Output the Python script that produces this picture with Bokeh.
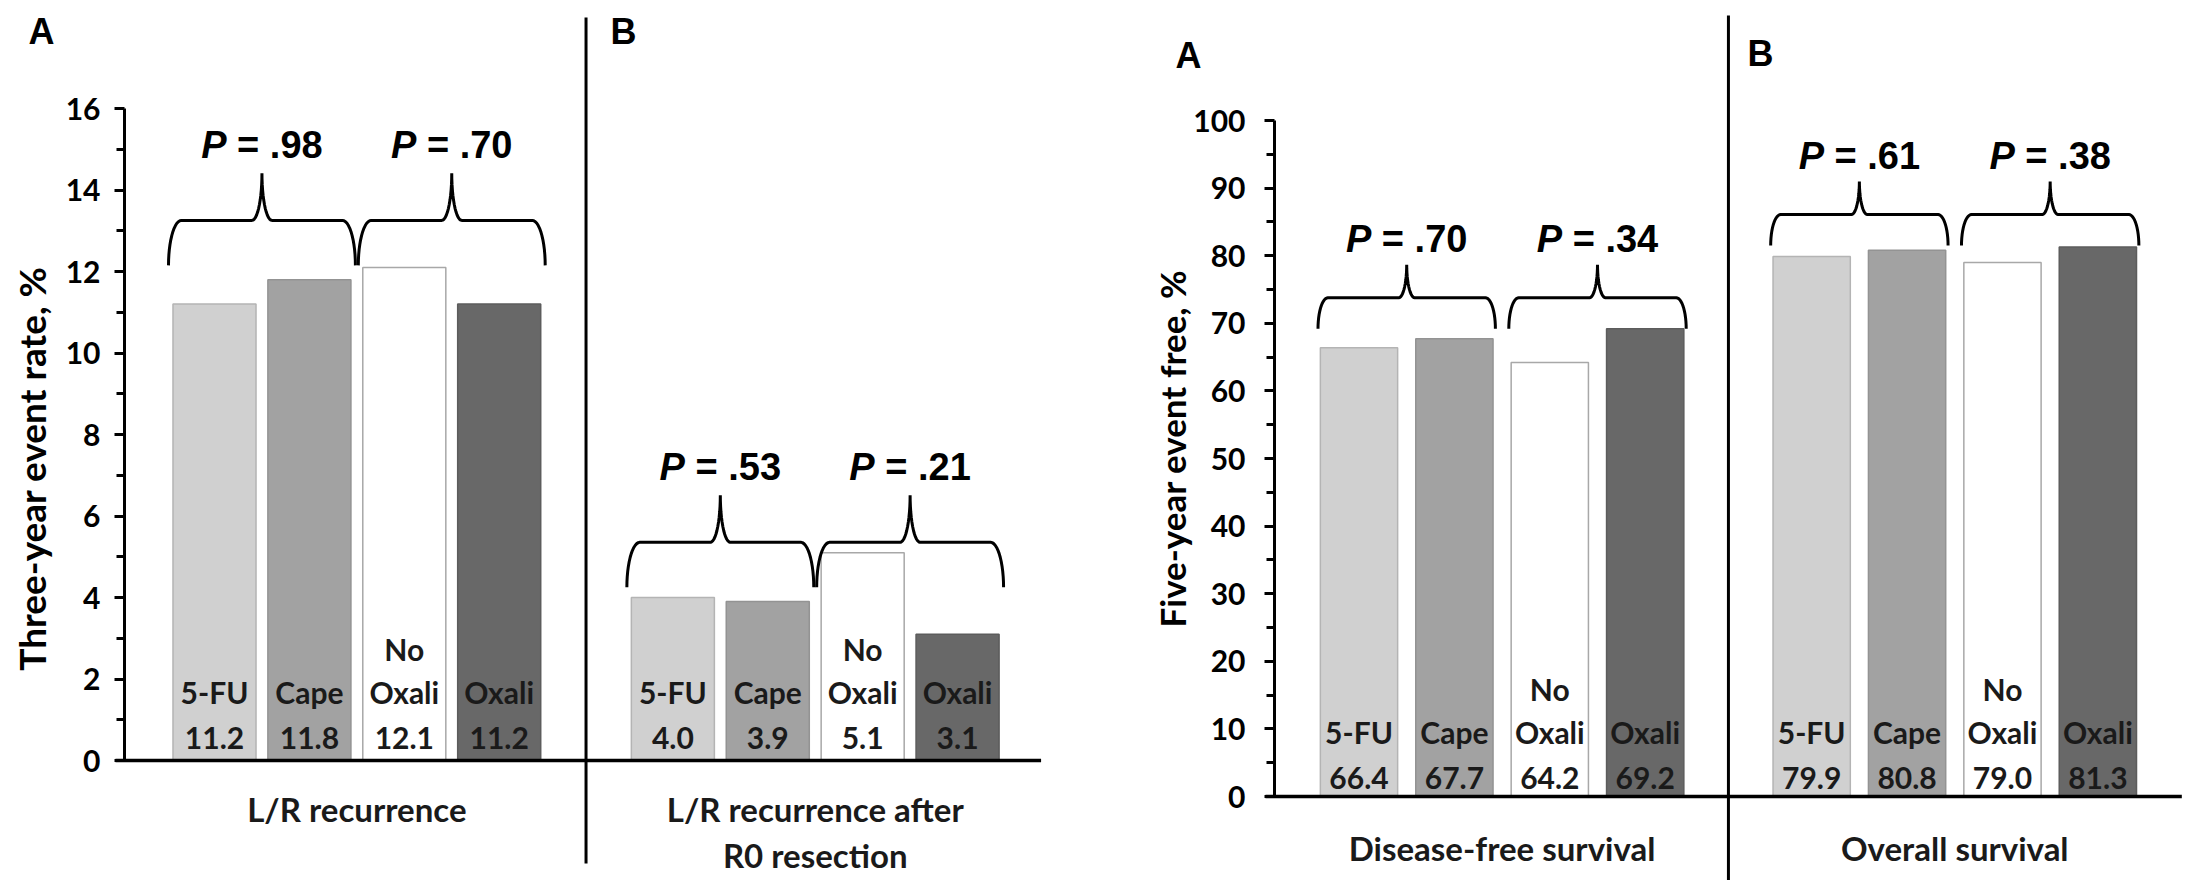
import numpy as np
from bokeh.plotting import figure
from bokeh.layouts import row
from bokeh.models import Range1d, FixedTicker
from bokeh.core.properties import value
from bokeh.embed import file_html
from bokeh.resources import INLINE

# ---------------- data ----------------
arms = ["5-FU", "Cape", "No Oxali", "Oxali"]

lr_panels = ["A", "B"]
lr_categories = ["L/R recurrence", "L/R recurrence after\nR0 resection"]
lr_recurrence = [11.2, 11.8, 12.1, 11.2]
lr_recurrence_r0 = [4.0, 3.9, 5.1, 3.1]
lr_p_values = [[".98", ".70"], [".53", ".21"]]
lr_yticks = [0, 2, 4, 6, 8, 10, 12, 14, 16]
lr_yminor = [1, 3, 5, 7, 9, 11, 13, 15]
lr_ylabel = "Three-year event rate, %"

surv_panels = ["A", "B"]
surv_categories = ["Disease-free survival", "Overall survival"]
surv_dfs = [66.4, 67.7, 64.2, 69.2]
surv_os = [79.9, 80.8, 79.0, 81.3]
surv_p_values = [[".70", ".34"], [".61", ".38"]]
surv_yticks = [0, 10, 20, 30, 40, 50, 60, 70, 80, 90, 100]
surv_yminor = [5, 15, 25, 35, 45, 55, 65, 75, 85, 95]
surv_ylabel = "Five-year event free, %"

# ---------------- styles / layout ----------------
arm_fill = ["#d0d0d0", "#a2a2a2", "#ffffff", "#686868"]
arm_line = ["#b4b4b4", "#939393", "#a8a8a8", "#5c5c5c"]
TXT = "Lato"
SANS = "Liberation Sans"
H = 880
P_SIZE = 38  # px, font size of the P-value labels

LEFT = dict(width=1095, axis_px=124, first_px=214, pitch=94.9, base_px=760, ppu=40.75,
            group_gap=1.83, bar_w=0.875, brace_base=[12.15, 4.25], brace_h1=45, brace_h2=47,
            brace_half=46, rx_end=13, rx_mid=10, p_off=28, div_top_px=17, div_bot_px=863,
            letters_px=[(41, 31), (623, 31)], cat_off=48, cat_step=46,
            bar_off=(-23, -69, -112), title_px=(31, 468), title_size="37px",
            label_standoff=16)
RIGHT = dict(width=1090, axis_px=179, first_px=263.5, pitch=95.4, base_px=796, ppu=6.76,
             group_gap=1.745, bar_w=0.81, brace_base=[69.2, 81.5], brace_h1=31, brace_h2=33,
             brace_half=41, rx_end=10, rx_mid=8, p_off=26, div_top_px=15, div_bot_px=880,
             letters_px=[(93, 55), (665, 53)], cat_off=51, cat_step=46,
             bar_off=(-19, -65, -108), title_px=(76, 448), title_size="35px",
             label_standoff=21)


def brace_path(x0, x1, yb, yh, ypk, rxe, rxm, n=14):
    xc = (x0 + x1) / 2.0
    t = np.linspace(0, np.pi / 2, n)
    lx = x0 + rxe - rxe * np.cos(t)
    ly = yb + (yh - yb) * np.sin(t)
    cx = xc - rxm + rxm * np.sin(t)
    cy = ypk - (ypk - yh) * np.cos(t)
    xs = list(lx) + list(cx) + list(2 * xc - cx[::-1]) + list(2 * xc - lx[::-1])
    ys = list(ly) + list(cy) + list(cy[::-1]) + list(ly[::-1])
    return xs, ys, xc


def build(cfg, series, categories, pvals, letters, ylabel, yticks, yminor, ytop):
    W = cfg["width"]
    pitch, ppu, base = cfg["pitch"], cfg["ppu"], cfg["base_px"]
    fx = lambda px: (px - cfg["first_px"]) / pitch
    fy = lambda py: (base - py) / ppu
    p = figure(width=W, height=H, output_backend="svg", toolbar_location=None,
               x_axis_type=None, x_range=Range1d(fx(0), fx(W)),
               y_range=Range1d(fy(H), fy(0)),
               min_border_left=0, min_border_right=0,
               min_border_top=0, min_border_bottom=0)
    p.outline_line_color = None
    p.ygrid.grid_line_color = None
    p.background_fill_color = "white"
    p.border_fill_color = "white"

    ax = p.yaxis[0]
    ax.fixed_location = fx(cfg["axis_px"])
    ax.ticker = FixedTicker(ticks=yticks, minor_ticks=yminor)
    ax.bounds = (0, ytop)
    ax.axis_line_width = 3
    ax.axis_line_color = "black"
    ax.major_tick_line_width = 3
    ax.minor_tick_line_width = 3
    ax.major_tick_in = 0
    ax.major_tick_out = 10
    ax.minor_tick_in = 0
    ax.minor_tick_out = 8
    ax.major_label_text_font = TXT
    ax.major_label_text_font_size = "30px"
    ax.major_label_text_font_style = "bold"
    ax.major_label_text_color = "black"
    ax.major_label_standoff = cfg["label_standoff"] - 2

    # y-axis title (drawn as rotated text, the axis sits inside the frame)
    tx, ty = cfg["title_px"]
    p.text(x=[fx(tx)], y=[fy(ty)], text=[ylabel], angle=np.pi / 2, text_align="center",
           text_baseline="middle", text_font=value(TXT), text_font_size=cfg["title_size"],
           text_font_style="bold", text_color="black")

    step = 3 + cfg["group_gap"]
    half = cfg["brace_half"] / pitch
    o_val, o_name, o_up = cfg["bar_off"]
    # P-label geometry (Liberation Sans Bold advance widths, in em)
    w_total = (0.667 + 0.278 + 0.584 + 0.278 + 0.278 + 0.556 + 0.556) * P_SIZE
    p_right = -w_total / 2 + 0.667 * P_SIZE
    rest_left = p_right + 0.278 * P_SIZE
    last_x = None
    for g, vals in enumerate(series):
        xs = [g * step + i for i in range(len(vals))]
        last_x = xs[-1]
        p.vbar(x=xs, top=vals, bottom=0, width=cfg["bar_w"], fill_color=arm_fill,
               line_color=arm_line, line_width=1.5)
        # value + arm labels inside bars
        p.text(x=xs, y=[0] * len(xs), text=[f"{v:.1f}" for v in vals], y_offset=o_val,
               text_align="center", text_baseline="alphabetic", text_font=value(TXT),
               text_font_size="30px", text_font_style="bold", text_color="#1a1a1a")
        p.text(x=xs, y=[0] * len(xs), text=[a.split(" ")[-1] for a in arms], y_offset=o_name,
               text_align="center", text_baseline="alphabetic", text_font=value(TXT),
               text_font_size="30px", text_font_style="bold", text_color="#1a1a1a")
        up = [(x, " ".join(a.split(" ")[:-1])) for x, a in zip(xs, arms) if " " in a]
        p.text(x=[u[0] for u in up], y=[0] * len(up), text=[u[1] for u in up], y_offset=o_up,
               text_align="center", text_baseline="alphabetic", text_font=value(TXT),
               text_font_size="30px", text_font_style="bold", text_color="#1a1a1a")
        # category label under the panel
        lines = categories[g].split("\n")
        for k, ln in enumerate(lines):
            p.text(x=[g * step + 1.5], y=[0], text=[ln], y_offset=cfg["cat_off"] + k * cfg["cat_step"],
                   text_align="center", text_baseline="middle", text_font=value(TXT),
                   text_font_size="33px", text_font_style="bold", text_color="#1a1a1a")
        # braces and P values
        yb = cfg["brace_base"][g]
        yh = yb + cfg["brace_h1"] / ppu
        ypk = yh + cfg["brace_h2"] / ppu
        bxs, bys, pxs, pys = [], [], [], []
        for k in range(2):
            bx, by, xc = brace_path(xs[2 * k] - half, xs[2 * k + 1] + half, yb, yh, ypk,
                                    cfg["rx_end"] / pitch, cfg["rx_mid"] / pitch)
            bxs.append(bx)
            bys.append(by)
            pxs.append(xc)
            pys.append(ypk)
        p.multi_line(xs=bxs, ys=bys, line_color="black", line_width=3)
        p.text(x=pxs, y=pys, text=["P", "P"], x_offset=p_right, y_offset=-cfg["p_off"],
               text_align="right", text_baseline="alphabetic", text_font=value(SANS),
               text_font_size=f"{P_SIZE}px", text_font_style="bold italic", text_color="black")
        p.text(x=pxs, y=pys, text=["= " + v for v in pvals[g]], x_offset=rest_left,
               y_offset=-cfg["p_off"], text_align="left", text_baseline="alphabetic",
               text_font=value(SANS), text_font_size=f"{P_SIZE}px", text_font_style="bold",
               text_color="black")
        # panel letter
        lx, ly = cfg["letters_px"][g]
        p.text(x=[fx(lx)], y=[fy(ly)], text=[letters[g]], text_align="center",
               text_baseline="middle", text_font=value(SANS), text_font_size="36px",
               text_font_style="bold", text_color="black")

    # panel divider and baseline
    div_x = (3 + step) / 2.0
    p.segment(x0=[div_x], y0=[fy(cfg["div_bot_px"])], x1=[div_x], y1=[fy(cfg["div_top_px"])],
              line_color="black", line_width=3)
    p.segment(x0=[fx(cfg["axis_px"] - 9)], y0=[0], x1=[last_x + 0.88], y1=[0],
              line_color="black", line_width=3.5)
    return p


p1 = build(LEFT, [lr_recurrence, lr_recurrence_r0], lr_categories, lr_p_values, lr_panels,
           lr_ylabel, lr_yticks, lr_yminor, 16)
p2 = build(RIGHT, [surv_dfs, surv_os], surv_categories, surv_p_values, surv_panels,
           surv_ylabel, surv_yticks, surv_yminor, 100)

layout = row(p1, p2)
open("out.html", "w").write(file_html(layout, INLINE))
